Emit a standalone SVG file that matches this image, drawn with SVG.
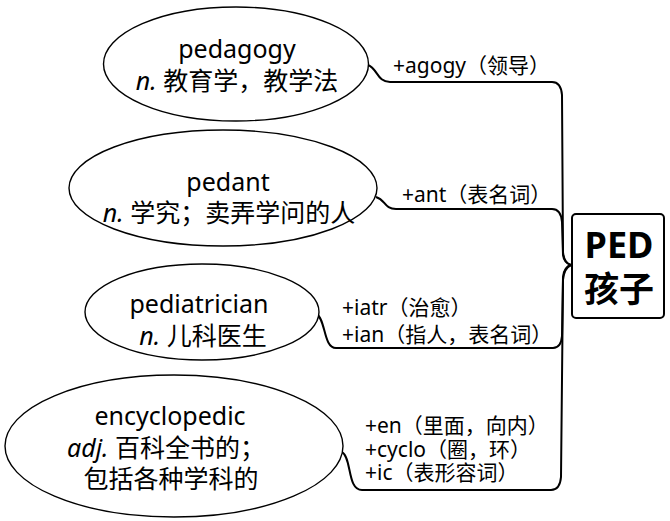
<svg xmlns="http://www.w3.org/2000/svg" width="670" height="521" viewBox="0 0 670 521">
<style>
.ell{fill:#fff;stroke:#000;stroke-width:1.4}
.t{font-family:"Noto Sans","Noto Sans CJK SC",sans-serif;font-size:25px;fill:#000;text-anchor:middle}
.lab{font-family:"Noto Sans","Noto Sans CJK SC",sans-serif;font-size:21px;fill:#000}
.con{fill:none;stroke:#000;stroke-width:2}
.it{font-style:italic}
.big{font-family:"Noto Sans","Noto Sans CJK SC",sans-serif;font-weight:bold;fill:#000;text-anchor:middle}
</style>
<rect width="670" height="521" fill="#fff"/>
<g id="connectors">
<path class="con" d="M368 65 C378 69 377 82 390 82 L552 82 Q561 82 562 95 L563 252 Q564 263 571 265"/>
<path class="con" d="M376 197 C386 200 384 209 396 209 L552 209 Q561 209 562 222 L563 255 Q564 263 571 265"/>
<path class="con" d="M316 314 C326 318 323 348 336 348 L553 348 Q561 348 562 336 L563 277 Q564 267 571 265"/>
<path class="con" d="M342 452 C352 458 347 490 362 490 L551 490 Q560 490 561 477 L563 280 Q564 268 571 265"/>
</g>
<g id="node-pedagogy">
<ellipse class="ell" cx="236" cy="64" rx="132.5" ry="57"/>
<text class="t" x="237" y="58">pedagogy</text>
<text class="t" x="237" y="90"><tspan class="it">n.</tspan> 教育学，教学法</text>
</g>
<g id="node-pedant">
<ellipse class="ell" cx="223" cy="188" rx="154" ry="58"/>
<text class="t" x="228" y="191">pedant</text>
<text class="t" x="229" y="222"><tspan class="it">n.</tspan> 学究；卖弄学问的人</text>
</g>
<g id="node-pediatrician">
<ellipse class="ell" cx="202" cy="312" rx="117" ry="48"/>
<text class="t" x="199" y="313">pediatrician</text>
<text class="t" x="203" y="345"><tspan class="it">n.</tspan> 儿科医生</text>
</g>
<g id="node-encyclopedic">
<ellipse class="ell" cx="174" cy="446" rx="169" ry="71"/>
<text class="t" x="170" y="425">encyclopedic</text>
<text class="t" x="166" y="457"><tspan class="it">adj.</tspan> 百科全书的；</text>
<text class="t" x="171" y="488">包括各种学科的</text>
</g>
<g id="node-PED">
<rect x="572" y="214" width="92" height="104" rx="4" fill="#fff" stroke="#000" stroke-width="2"/>
<text class="big" x="619" y="258" font-size="36">PED</text>
<text class="big" x="619" y="302" font-size="35">孩子</text>
</g>
<g id="labels">
<text class="lab" x="393" y="73">+agogy（领导）</text>
<text class="lab" x="402" y="202">+ant（表名词）</text>
<text class="lab" x="342" y="315">+iatr（治愈）</text>
<text class="lab" x="342" y="342">+ian（指人，表名词）</text>
<text class="lab" x="365" y="433">+en（里面，向内）</text>
<text class="lab" x="365" y="457">+cyclo（圈，环）</text>
<text class="lab" x="365" y="480">+ic（表形容词）</text>
</g>
</svg>
